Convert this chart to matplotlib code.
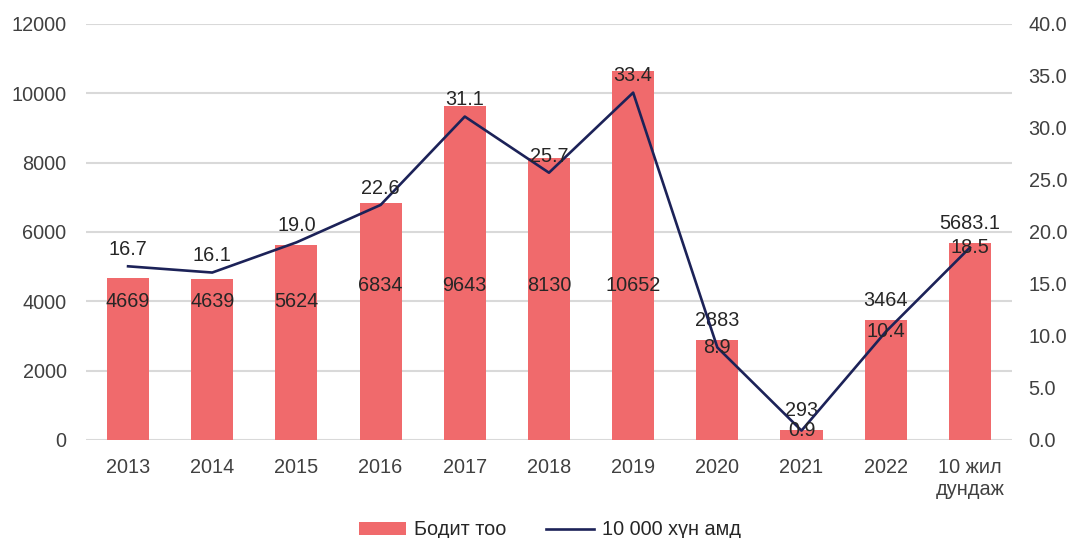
import matplotlib
matplotlib.use("Agg")
import matplotlib.pyplot as plt
from matplotlib.patches import Patch
from matplotlib.lines import Line2D

plt.rcParams['font.family'] = ['Liberation Sans', 'DejaVu Sans']

categories = ["2013", "2014", "2015", "2016", "2017", "2018", "2019",
              "2020", "2021", "2022", "10 жил\nдундаж"]
actual_count = [4669, 4639, 5624, 6834, 9643, 8130, 10652, 2883, 293, 3464, 5683.1]
count_labels = ["4669", "4639", "5624", "6834", "9643", "8130", "10652",
                "2883", "293", "3464", "5683.1"]
per_10000 = [16.7, 16.1, 19.0, 22.6, 31.1, 25.7, 33.4, 8.9, 0.9, 10.4, 18.5]

bar_name = "Бодит тоо"
line_name = "10 000 хүн амд"

BAR_COLOR = "#F06A6C"
LINE_COLOR = "#1C2258"
GRID_COLOR = "#D9D9D9"
TICK_COLOR = "#404040"
LABEL_COLOR = "#262626"
FS = 14.3

fig = plt.figure(figsize=(10.72, 5.38), dpi=100)
ax = fig.add_axes([0.0802, 0.1822, 0.8638, 0.7732])
ax2 = ax.twinx()

x = list(range(len(categories)))
ax.bar(x, actual_count, width=0.5, color=BAR_COLOR, zorder=2)
ax.set_xlim(-0.5, len(categories) - 0.5)
ax.set_ylim(0, 12000)
ax.set_yticks(range(0, 12001, 2000))
ax.yaxis.grid(True, color=GRID_COLOR, linewidth=1.5, zorder=0)
ax.set_axisbelow(True)
ax.set_xticks(x)
ax.set_xticklabels(categories, multialignment="center")
ax.tick_params(axis="both", length=0, labelsize=FS, colors=TICK_COLOR)
ax.tick_params(axis="y", pad=14)
ax.tick_params(axis="x", pad=13)

ax2.plot(x, per_10000, color=LINE_COLOR, linewidth=1.9, zorder=3)
ax2.set_ylim(0, 40)
ax2.set_yticks([i * 5 for i in range(9)])
ax2.set_yticklabels([f"{i * 5:.1f}" for i in range(9)])
ax2.tick_params(axis="y", length=0, labelsize=FS, colors=TICK_COLOR, pad=12)

for a in (ax, ax2):
    for s in a.spines.values():
        s.set_visible(False)

# Count labels: inside the tall yearly bars, just above the short bars and the average
n_years = 10
for i, (xi, v, txt) in enumerate(zip(x, actual_count, count_labels)):
    if v > 4000 and i < n_years:
        y = 4000 if v < 6000 else 4450
        ax.text(xi, y, txt, ha="center", va="center", fontsize=FS,
                color=LABEL_COLOR, zorder=5)
    else:
        ax.annotate(txt, (xi, v), xytext=(0, 14), textcoords="offset points",
                    ha="center", va="center", fontsize=FS, color=LABEL_COLOR,
                    zorder=5)

# Rate labels: above the points up to 2019, centred on the later ones
for i, (xi, v) in enumerate(zip(x, per_10000)):
    dy = 12 if i < 7 else 0
    ax2.annotate(f"{v:.1f}", (xi, v), xytext=(0, dy), textcoords="offset points",
                 ha="center", va="center", fontsize=FS, color=LABEL_COLOR,
                 zorder=6)

handles = [Patch(facecolor=BAR_COLOR, edgecolor="none"),
           Line2D([0], [0], color=LINE_COLOR, linewidth=1.9)]
fig.legend(handles, [bar_name, line_name], loc="center",
           bbox_to_anchor=(0.513, 0.015), ncol=2, frameon=False, fontsize=FS,
           handlelength=2.4, handleheight=0.6, columnspacing=2.0,
           handletextpad=0.4, labelcolor=LABEL_COLOR)

fig.savefig("out.png", dpi=100)
